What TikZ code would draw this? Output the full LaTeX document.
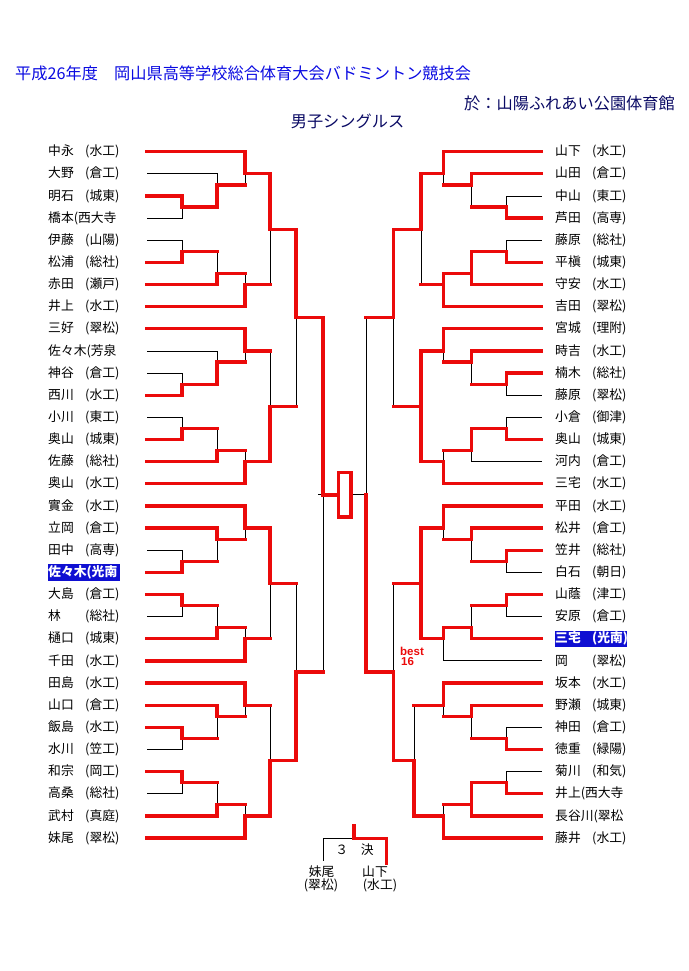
\documentclass[tikz,border=0pt]{standalone}
\usepackage{fontspec}
\newfontfamily\jp{Noto Sans CJK JP}
\newfontfamily\arialf{Liberation Sans}
\definecolor{bred}{RGB}{235,10,10}
\definecolor{tblue}{RGB}{10,10,225}
\definecolor{navy}{RGB}{10,10,100}
\definecolor{hl}{RGB}{15,15,210}
\newcommand\nmx[2]{\makebox[37pt][l]{#1}#2}
\def\xLa{147}\def\xLb{182}\def\xLc{217}\def\xLd{245}\def\xLe{270}\def\xLf{296}\def\xLg{323}
\def\xRa{541.7}\def\xRb{506.7}\def\xRc{471.3}\def\xRd{443.5}\def\xRe{421}\def\xRee{414}\def\xRf{393.3}\def\xRg{366}
\tikzset{
 rl/.style={draw=bred, line width=3.3pt, line cap=rect, line join=miter},
 bl/.style={draw=black, line width=0.9pt, line cap=rect},
 nm/.style={font=\jp\fontsize{12.8}{14}\selectfont, inner sep=0pt, anchor=west},
 hlt/.style={nm, fill=hl, text=white, text width=72pt, minimum height=16.5pt, font=\jp\bfseries\fontsize{12.8}{14}\selectfont},
}
\begin{document}
\begin{tikzpicture}[x=1pt,y=-11.07pt]
\useasboundingbox (0,-13.7037) rectangle (688,74.0108);
% header
\node[anchor=west, inner sep=0pt, text=tblue, font=\jp\fontsize{16.2}{18}\selectfont] (title) at (15,-7.1) {平成26年度　岡山県高等学校総合体育大会バドミントン競技会};
\node[anchor=east, inner sep=0pt, text=navy, font=\jp\fontsize{16.2}{18}\selectfont] (venue) at (675,-4.4) {於：山陽ふれあい公園体育館};
\node[inner sep=0pt, text=navy, font=\jp\fontsize{16.2}{18}\selectfont] (event) at (347.5,-2.77) {男子シングルス};
% left names
\node[nm] (p0) at (48,0) {\nmx{中永}{(水工)}};
\node[nm] (p1) at (48,2) {\nmx{大野}{(倉工)}};
\node[nm] (p2) at (48,4) {\nmx{明石}{(城東)}};
\node[nm] (p3) at (48,6) {橋本(西大寺};
\node[nm] (p4) at (48,8) {\nmx{伊藤}{(山陽)}};
\node[nm] (p5) at (48,10) {\nmx{松浦}{(総社)}};
\node[nm] (p6) at (48,12) {\nmx{赤田}{(瀬戸)}};
\node[nm] (p7) at (48,14) {\nmx{井上}{(水工)}};
\node[nm] (p8) at (48,16) {\nmx{三好}{(翠松)}};
\node[nm] (p9) at (48,18) {佐々木(芳泉};
\node[nm] (p10) at (48,20) {\nmx{神谷}{(倉工)}};
\node[nm] (p11) at (48,22) {\nmx{西川}{(水工)}};
\node[nm] (p12) at (48,24) {\nmx{小川}{(東工)}};
\node[nm] (p13) at (48,26) {\nmx{奥山}{(城東)}};
\node[nm] (p14) at (48,28) {\nmx{佐藤}{(総社)}};
\node[nm] (p15) at (48,30) {\nmx{奥山}{(水工)}};
\node[nm] (p16) at (48,32) {\nmx{實金}{(水工)}};
\node[nm] (p17) at (48,34) {\nmx{立岡}{(倉工)}};
\node[nm] (p18) at (48,36) {\nmx{田中}{(高専)}};
\node[hlt] (p19) at (48,38) {佐々木(光南};
\node[nm] (p20) at (48,40) {\nmx{大島}{(倉工)}};
\node[nm] (p21) at (48,42) {\nmx{林}{(総社)}};
\node[nm] (p22) at (48,44) {\nmx{樋口}{(城東)}};
\node[nm] (p23) at (48,46) {\nmx{千田}{(水工)}};
\node[nm] (p24) at (48,48) {\nmx{田島}{(水工)}};
\node[nm] (p25) at (48,50) {\nmx{山口}{(倉工)}};
\node[nm] (p26) at (48,52) {\nmx{飯島}{(水工)}};
\node[nm] (p27) at (48,54) {\nmx{水川}{(笠工)}};
\node[nm] (p28) at (48,56) {\nmx{和宗}{(岡工)}};
\node[nm] (p29) at (48,58) {\nmx{高桑}{(総社)}};
\node[nm] (p30) at (48,60) {\nmx{武村}{(真庭)}};
\node[nm] (p31) at (48,62) {\nmx{妹尾}{(翠松)}};
% right names
\node[nm] (q0) at (555,0) {\nmx{山下}{(水工)}};
\node[nm] (q1) at (555,2) {\nmx{山田}{(倉工)}};
\node[nm] (q2) at (555,4) {\nmx{中山}{(東工)}};
\node[nm] (q3) at (555,6) {\nmx{芦田}{(高専)}};
\node[nm] (q4) at (555,8) {\nmx{藤原}{(総社)}};
\node[nm] (q5) at (555,10) {\nmx{平槇}{(城東)}};
\node[nm] (q6) at (555,12) {\nmx{守安}{(水工)}};
\node[nm] (q7) at (555,14) {\nmx{吉田}{(翠松)}};
\node[nm] (q8) at (555,16) {\nmx{宮城}{(理附)}};
\node[nm] (q9) at (555,18) {\nmx{時吉}{(水工)}};
\node[nm] (q10) at (555,20) {\nmx{楠木}{(総社)}};
\node[nm] (q11) at (555,22) {\nmx{藤原}{(翠松)}};
\node[nm] (q12) at (555,24) {\nmx{小倉}{(御津)}};
\node[nm] (q13) at (555,26) {\nmx{奥山}{(城東)}};
\node[nm] (q14) at (555,28) {\nmx{河内}{(倉工)}};
\node[nm] (q15) at (555,30) {\nmx{三宅}{(水工)}};
\node[nm] (q16) at (555,32) {\nmx{平田}{(水工)}};
\node[nm] (q17) at (555,34) {\nmx{松井}{(倉工)}};
\node[nm] (q18) at (555,36) {\nmx{笠井}{(総社)}};
\node[nm] (q19) at (555,38) {\nmx{白石}{(朝日)}};
\node[nm] (q20) at (555,40) {\nmx{山蔭}{(津工)}};
\node[nm] (q21) at (555,42) {\nmx{安原}{(倉工)}};
\node[hlt] (q22) at (555,44) {\nmx{三宅}{(光南)}};
\node[nm] (q23) at (555,46) {\nmx{岡}{(翠松)}};
\node[nm] (q24) at (555,48) {\nmx{坂本}{(水工)}};
\node[nm] (q25) at (555,50) {\nmx{野瀬}{(城東)}};
\node[nm] (q26) at (555,52) {\nmx{神田}{(倉工)}};
\node[nm] (q27) at (555,54) {\nmx{徳重}{(緑陽)}};
\node[nm] (q28) at (555,56) {\nmx{菊川}{(和気)}};
\node[nm] (q29) at (555,58) {井上(西大寺};
\node[nm] (q30) at (555,60) {長谷川(翠松};
\node[nm] (q31) at (555,62) {\nmx{藤井}{(水工)}};
% black (losing) lines, left
\draw[bl] (\xLa,2)--(\xLc,2)--(\xLc,3);
\draw[bl] (\xLa,6)--(\xLb,6)--(\xLb,5);
\draw[bl] (\xLd,2)--(\xLd,3);
\draw[bl] (\xLa,8)--(\xLb,8)--(\xLb,9);
\draw[bl] (\xLc,9)--(\xLc,11);
\draw[bl] (\xLd,11)--(\xLd,12);
\draw[bl] (\xLe,7)--(\xLe,12);
\draw[bl] (\xLd,18)--(\xLd,19);
\draw[bl] (\xLa,18)--(\xLc,18)--(\xLc,19);
\draw[bl] (\xLa,20)--(\xLb,20)--(\xLb,21);
\draw[bl] (\xLa,24)--(\xLb,24)--(\xLb,25);
\draw[bl] (\xLc,25)--(\xLc,27);
\draw[bl] (\xLd,27)--(\xLd,28);
\draw[bl] (\xLe,18)--(\xLe,23);
\draw[bl] (\xLf,15)--(\xLf,23);
\draw[bl] (\xLd,34)--(\xLd,35);
\draw[bl] (\xLc,35)--(\xLc,37);
\draw[bl] (\xLa,36)--(\xLb,36)--(\xLb,37);
\draw[bl] (\xLc,41)--(\xLc,43);
\draw[bl] (\xLa,42)--(\xLb,42)--(\xLb,41);
\draw[bl] (\xLd,43)--(\xLd,44);
\draw[bl] (\xLe,39)--(\xLe,44);
\draw[bl] (\xLf,39)--(\xLf,47);
\draw[bl] (\xLd,50)--(\xLd,51);
\draw[bl] (\xLe,50)--(\xLe,55);
\draw[bl] (\xLc,51)--(\xLc,53);
\draw[bl] (\xLa,54)--(\xLb,54)--(\xLb,53);
\draw[bl] (\xLc,57)--(\xLc,59);
\draw[bl] (\xLa,58)--(\xLb,58)--(\xLb,57);
\draw[bl] (\xLd,59)--(\xLd,60);
\draw[bl] (\xLg,31)--(\xLg,47);
\draw[bl] (318,31)--(\xLg,31);
\draw[bl] (351,31)--(\xRg,31);
\draw[bl] (\xRg,15)--(\xRg,31);
% black lines, right
\draw[bl] (\xRd,2)--(\xRd,3);
\draw[bl] (\xRc,3)--(\xRc,5);
\draw[bl] (\xRa,4)--(\xRb,4)--(\xRb,5);
\draw[bl] (\xRa,8)--(\xRb,8)--(\xRb,9);
\draw[bl] (\xRe,7)--(\xRe,12);
\draw[bl] (\xRf,15)--(\xRf,23);
\draw[bl] (\xRd,18)--(\xRd,19);
\draw[bl] (\xRc,19)--(\xRc,21);
\draw[bl] (\xRa,22)--(\xRb,22)--(\xRb,21);
\draw[bl] (\xRa,24)--(\xRb,24)--(\xRb,25);
\draw[bl] (\xRa,28)--(\xRc,28)--(\xRc,27);
\draw[bl] (\xRd,27)--(\xRd,28);
\draw[bl] (\xRd,34)--(\xRd,35);
\draw[bl] (\xRc,35)--(\xRc,37);
\draw[bl] (\xRa,38)--(\xRb,38)--(\xRb,37);
\draw[bl] (\xRa,42)--(\xRb,42)--(\xRb,41);
\draw[bl] (\xRc,41)--(\xRc,43);
\draw[bl] (\xRa,46)--(\xRd,46)--(\xRd,44);
\draw[bl] (\xRf,39)--(\xRf,47);
\draw[bl] (\xRd,50)--(\xRd,51);
\draw[bl] (\xRc,51)--(\xRc,53);
\draw[bl] (\xRa,52)--(\xRb,52)--(\xRb,53);
\draw[bl] (\xRa,56)--(\xRb,56)--(\xRb,57);
\draw[bl] (\xRd,59)--(\xRd,60);
\draw[bl] (\xRee,50)--(\xRee,55);
% red (winning) lines, left
\draw[rl] (\xLa,0)--(\xLd,0)--(\xLd,2)--(\xLe,2)--(\xLe,7)--(\xLf,7)--(\xLf,15)--(\xLg,15)--(\xLg,31)--(338.3,31);
\draw[rl] (\xLa,4)--(\xLb,4)--(\xLb,5)--(\xLc,5)--(\xLc,3)--(\xLd,3);
\draw[rl] (\xLa,10)--(\xLb,10)--(\xLb,9)--(\xLc,9);
\draw[rl] (\xLa,12)--(\xLc,12)--(\xLc,11)--(\xLd,11);
\draw[rl] (\xLa,14)--(\xLd,14)--(\xLd,12)--(\xLe,12);
\draw[rl] (\xLa,16)--(\xLd,16)--(\xLd,18)--(\xLe,18);
\draw[rl] (\xLa,22)--(\xLb,22)--(\xLb,21)--(\xLc,21)--(\xLc,19)--(\xLd,19);
\draw[rl] (\xLa,26)--(\xLb,26)--(\xLb,25)--(\xLc,25);
\draw[rl] (\xLa,28)--(\xLc,28)--(\xLc,27)--(\xLd,27);
\draw[rl] (\xLa,30)--(\xLd,30)--(\xLd,28)--(\xLe,28)--(\xLe,23)--(\xLf,23);
\draw[rl] (\xLa,32)--(\xLd,32)--(\xLd,34)--(\xLe,34)--(\xLe,39)--(\xLf,39);
\draw[rl] (\xLa,34)--(\xLc,34)--(\xLc,35)--(\xLd,35);
\draw[rl] (\xLa,38)--(\xLb,38)--(\xLb,37)--(\xLc,37);
\draw[rl] (\xLa,40)--(\xLb,40)--(\xLb,41)--(\xLc,41);
\draw[rl] (\xLa,44)--(\xLc,44)--(\xLc,43)--(\xLd,43);
\draw[rl] (\xLa,46)--(\xLd,46)--(\xLd,44)--(\xLe,44);
\draw[rl] (\xLa,48)--(\xLd,48)--(\xLd,50)--(\xLe,50);
\draw[rl] (\xLa,50)--(\xLc,50)--(\xLc,51)--(\xLd,51);
\draw[rl] (\xLa,52)--(\xLb,52)--(\xLb,53)--(\xLc,53);
\draw[rl] (\xLa,56)--(\xLb,56)--(\xLb,57)--(\xLc,57);
\draw[rl] (\xLa,60)--(\xLc,60)--(\xLc,59)--(\xLd,59);
\draw[rl] (\xLa,62)--(\xLd,62)--(\xLd,60)--(\xLe,60)--(\xLe,55)--(\xLf,55)--(\xLf,47)--(\xLg,47);
% final box
\draw[rl] (338.3,29) rectangle (351,33);
% red lines, right
\draw[rl] (\xRa,0)--(\xRd,0)--(\xRd,2)--(\xRe,2)--(\xRe,7)--(\xRf,7)--(\xRf,15)--(\xRg,15);
\draw[rl] (\xRa,2)--(\xRc,2)--(\xRc,3)--(\xRd,3);
\draw[rl] (\xRa,6)--(\xRb,6)--(\xRb,5)--(\xRc,5);
\draw[rl] (\xRa,10)--(\xRb,10)--(\xRb,9)--(\xRc,9)--(\xRc,12)--(\xRa,12);
\draw[rl] (\xRc,11)--(\xRd,11)--(\xRd,14)--(\xRa,14);
\draw[rl] (\xRd,12)--(\xRe,12);
\draw[rl] (\xRa,16)--(\xRd,16)--(\xRd,18)--(\xRe,18)--(\xRe,28)--(\xRd,28)--(\xRd,30)--(\xRa,30);
\draw[rl] (\xRe,23)--(\xRf,23);
\draw[rl] (\xRa,18)--(\xRc,18)--(\xRc,19)--(\xRd,19);
\draw[rl] (\xRa,20)--(\xRb,20)--(\xRb,21)--(\xRc,21);
\draw[rl] (\xRa,26)--(\xRb,26)--(\xRb,25)--(\xRc,25)--(\xRc,27)--(\xRd,27);
\draw[rl] (\xRa,32)--(\xRd,32)--(\xRd,34)--(\xRe,34)--(\xRe,44)--(\xRd,44)--(\xRd,43)--(\xRc,43)--(\xRc,44)--(\xRa,44);
\draw[rl] (\xRe,39)--(\xRf,39);
\draw[rl] (\xRa,34)--(\xRc,34)--(\xRc,35)--(\xRd,35);
\draw[rl] (\xRa,36)--(\xRb,36)--(\xRb,37)--(\xRc,37);
\draw[rl] (\xRa,40)--(\xRb,40)--(\xRb,41)--(\xRc,41);
\draw[rl] (\xRg,31)--(\xRg,47)--(\xRf,47)--(\xRf,55)--(\xRee,55)--(\xRee,60)--(\xRd,60)--(\xRd,62)--(\xRa,62);
\draw[rl] (\xRa,48)--(\xRd,48)--(\xRd,50)--(\xRee,50);
\draw[rl] (\xRa,50)--(\xRc,50)--(\xRc,51)--(\xRd,51);
\draw[rl] (\xRa,54)--(\xRb,54)--(\xRb,53)--(\xRc,53);
\draw[rl] (\xRa,58)--(\xRb,58)--(\xRb,57)--(\xRc,57)--(\xRc,60)--(\xRa,60);
\draw[rl] (\xRc,59)--(\xRd,59);
% best 16
\node[anchor=base west, inner sep=0pt, text=bred, font=\arialf\bfseries\fontsize{11.5}{12}\selectfont] (best) at (400,45.5) {best};
\node[anchor=base west, inner sep=0pt, text=bred, font=\arialf\bfseries\fontsize{11.5}{12}\selectfont] (sixteen) at (401,46.37) {16};
% third place
\draw[bl] (323,64)--(323,62.05)--(354,62.05);
\draw[rl] (354,60.85)--(354,62.05)--(386.7,62.05)--(386.7,64.25);
\node[inner sep=0pt, font=\jp\fontsize{12.8}{14}\selectfont] (third) at (354.5,63.07) {３　決};
\node[inner sep=0pt, font=\jp\fontsize{12.8}{14}\selectfont] (t1a) at (321.7,65.04) {妹尾};
\node[inner sep=0pt, font=\jp\fontsize{12.8}{14}\selectfont] (t1b) at (321,66.24) {(翠松)};
\node[inner sep=0pt, font=\jp\fontsize{12.8}{14}\selectfont] (t2a) at (375,65.04) {山下};
\node[inner sep=0pt, font=\jp\fontsize{12.8}{14}\selectfont] (t2b) at (380,66.24) {(水工)};
\end{tikzpicture}
\end{document}
